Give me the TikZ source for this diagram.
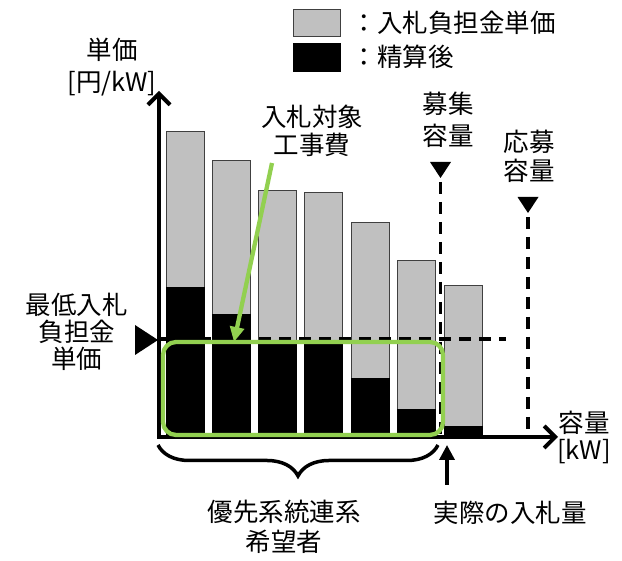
\documentclass[tikz,border=0pt]{standalone}
\usepackage{fontspec}
\setmainfont{Noto Sans CJK JP}
\usetikzlibrary{positioning,arrows.meta,decorations.pathreplacing}

\definecolor{barGray}{RGB}{192,192,192}
\definecolor{frameGreen}{RGB}{146,208,80}

\tikzset{
  txt/.style={font=\fontsize{25.5}{29}\selectfont, align=center, inner sep=0pt},
  graybar/.style={fill=barGray, draw=black!75, line width=0.9pt},
  blackbar/.style={fill=black, draw=black, line width=0.9pt},
  axis/.style={line width=4pt, {Straight Barb[length=11pt,width=22pt]}-{Straight Barb[length=11pt,width=22pt]}},
  limit/.style={line width=3.8pt, dash pattern=on 12pt off 8pt},
  greenline/.style={draw=frameGreen, line width=4.3pt},
}

\begin{document}
\begin{tikzpicture}[x=1pt,y=1pt]
  \useasboundingbox (0,0) rectangle (622,561);

        % Legend
        \node[graybar, minimum width=47pt, minimum height=27pt, inner sep=0pt] (legend_gray) at (316.5,538.5) {}; %
        \node[blackbar, minimum width=47pt, minimum height=28pt, inner sep=0pt] (legend_black) at (316.5,504) {}; %
        \node[txt, right = 11 of legend_gray] (legend_gray_txt) {：入札負担金単価}; %
        \node[txt, right = 11 of legend_black] (legend_black_txt) {：精算後}; %

        % Bars
        \draw[graybar]  (166,124) rectangle (204,430); %
        \draw[blackbar] (166,124) rectangle (204,274); %
        \draw[graybar]  (212,124) rectangle (250,401); %
        \draw[blackbar] (212,124) rectangle (250,247); %
        \draw[graybar]  (258,124) rectangle (296,371); %
        \draw[blackbar] (258,124) rectangle (296,219); %
        \draw[graybar]  (304,124) rectangle (342,369); %
        \draw[blackbar] (304,124) rectangle (342,219); %
        \draw[graybar]  (351,124) rectangle (389,339); %
        \draw[blackbar] (351,124) rectangle (389,183); %
        \draw[graybar]  (397,124) rectangle (435,301); %
        \draw[blackbar] (397,124) rectangle (435,152); %
        \draw[graybar]  (444,124) rectangle (482,276); %
        \draw[blackbar] (444,124) rectangle (482,135); %

        % Axes
        \coordinate (O) at (159,124); %
        \coordinate (y_end) at (159,470); %
        \coordinate (x_end) at (558,124); %
        \draw[axis] (y_end) -- (O) -- (x_end); %

        \node[txt] (unit_price) at (112,511) {単価}; %
        \node[txt, below = 9 of unit_price] (unit_yen) {[円/kW]}; %
        \node[txt, font=\fontsize{25.5}{27}\selectfont] (cap_axis) at (584,124) {容量\\{}[kW]}; %

        % Minimum price
        \coordinate (min_start) at (159,222); %
        \coordinate (min_end) at (506,222); %
        \draw[limit] (min_start) -- (min_end); %
        \fill (135,236) -- (158,221) -- (135,206) -- cycle; %
        \node[txt, font=\fontsize{25.5}{27}\selectfont] (min_price) at (77,229) {最低入札\\負担金\\単価}; %

        % Capacities
        \coordinate (recruit_top) at (440.5,399); %
        \coordinate (apply_top) at (528,364); %
        \draw[limit] (recruit_top) -- (recruit_top |- O); %
        \draw[limit] (apply_top) -- (apply_top |- O); %
        \fill (430,399) -- (451,399) -- (440.5,383) -- cycle; %
        \fill (517.5,364) -- (538.5,364) -- (528,348) -- cycle; %
        \node[txt, font=\fontsize{25.5}{32}\selectfont] (recruit_cap) at (448,441) {募集\\容量}; %
        \node[txt] (apply_cap) at (529,405) {応募\\容量}; %

        % Priority group
        \draw[greenline, rounded corners=13pt] (163,126) rectangle (443,219); %
        \node[txt, font=\fontsize{25.5}{28}\selectfont] (target_cost) at (312,430) {入札対象\\工事費}; %
        \coordinate (target_from) at (272,398); %
        \coordinate (target_to) at (234,219); %
        \draw[greenline, -{Triangle[length=15pt,width=14pt]}] (target_from) -- (target_to); %

        \coordinate (brace_left) at (158,116); %
        \coordinate (brace_right) at (438,116); %
        \draw[line width=3.5pt, decorate, decoration={brace, mirror, amplitude=31pt}] (brace_left) -- (brace_right); %
        \node[txt, font=\fontsize{25.5}{30}\selectfont] (priority) at (284,34) {優先系統連系\\希望者}; %

        % Actual bid
        \coordinate (actual_from) at (447,76); %
        \coordinate (actual_to) at (447,116); %
        \draw[line width=3.5pt, -{Triangle[length=15pt,width=15pt]}] (actual_from) -- (actual_to); %
        \node[txt] (actual_bid) at (510,48) {実際の入札量}; %

\end{tikzpicture}
\end{document}
